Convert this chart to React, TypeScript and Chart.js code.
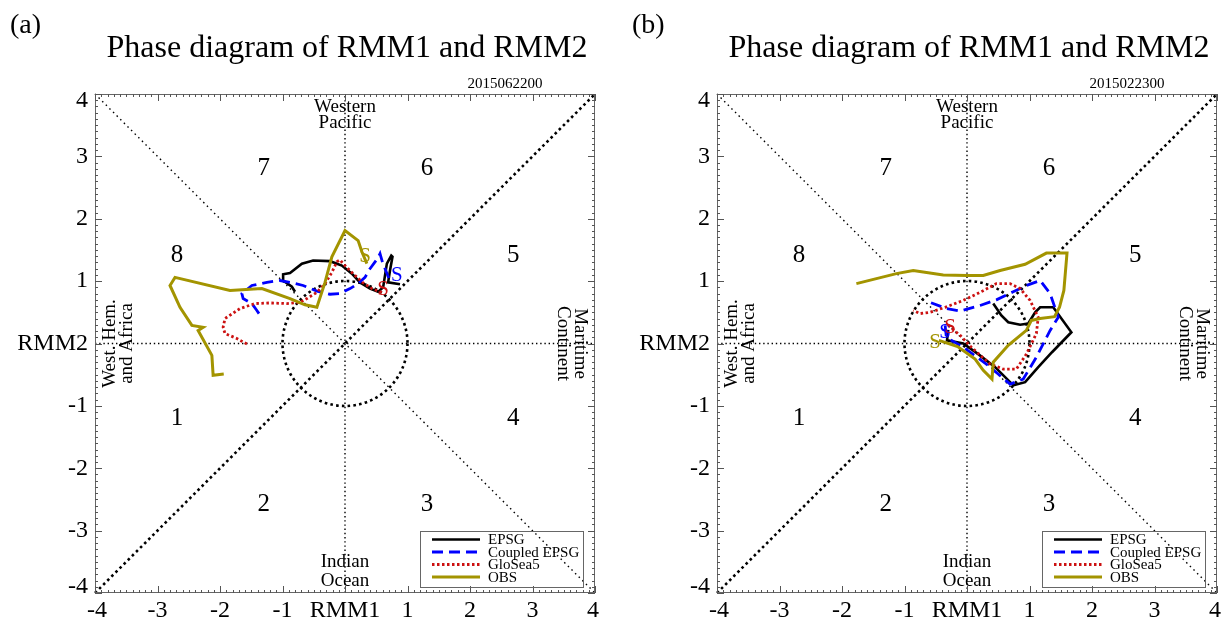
import React, { useEffect, useRef } from "react";
import { Chart, registerables } from "chart.js";

Chart.register(...registerables);

type Pt = [number, number];

// ---------- shared labels ----------
const chartTitle = "Phase diagram of RMM1 and RMM2";
const panelTags = ["(a)", "(b)"];
const panelDates = ["2015062200", "2015022300"];
const seriesNames = ["EPSG", "Coupled EPSG", "GloSea5", "OBS"];
const seriesColors = ["#000000", "#0000ff", "#cc1111", "#a39400"];
const axisTickValues = [-4, -3, -2, -1, 0, 1, 2, 3, 4];
const xTickLabels = ["-4", "-3", "-2", "-1", "RMM1", "1", "2", "3", "4"];
const yTickLabels = ["-4", "-3", "-2", "-1", "RMM2", "1", "2", "3", "4"];
const phaseLabels = ["1", "2", "3", "4", "5", "6", "7", "8"];

// ---------- panel (a) 2015062200 ----------
const epsgA: Pt[] = [
  [0.88, 0.95], [0.69, 0.98], [0.72, 1.17], [0.76, 1.39], [0.74, 1.41], [0.67, 1.28],
  [0.61, 0.90], [0.53, 0.83], [0.40, 0.88], [0.24, 0.98], [0.11, 1.12], [-0.05, 1.25],
  [-0.24, 1.32], [-0.51, 1.33], [-0.69, 1.28], [-0.88, 1.13], [-0.99, 1.11], [-0.99, 1.01],
  [-0.85, 0.91], [-0.80, 0.83],
];
const coupledA: Pt[] = [
  [0.70, 1.05], [0.60, 1.30], [0.56, 1.44], [0.52, 1.36], [0.40, 1.20], [0.32, 1.06],
  [0.21, 0.96], [0.08, 0.88], [-0.08, 0.80], [-0.24, 0.79], [-0.45, 0.84], [-0.67, 0.93],
  [-0.88, 0.98], [-1.04, 1.01], [-1.25, 0.98], [-1.49, 0.93], [-1.65, 0.80], [-1.63, 0.72],
  [-1.49, 0.64], [-1.41, 0.53], [-1.33, 0.41],
];
const glosea5A: Pt[] = [
  [0.59, 0.82], [0.43, 0.88], [0.28, 0.98], [0.13, 1.12], [0.00, 1.25], [-0.08, 1.34],
  [-0.13, 1.31], [-0.21, 1.14], [-0.32, 0.96], [-0.45, 0.82], [-0.61, 0.72], [-0.72, 0.66],
  [-0.93, 0.64], [-1.20, 0.65], [-1.44, 0.64], [-1.68, 0.56], [-1.92, 0.40], [-1.95, 0.26],
  [-1.92, 0.16], [-1.73, 0.08], [-1.55, -0.02],
];
const obsA: Pt[] = [
  [0.35, 1.28], [0.27, 1.47], [0.21, 1.65], [0.00, 1.81], [-0.21, 1.39], [-0.32, 0.98],
  [-0.45, 0.58], [-0.64, 0.62], [-0.88, 0.72], [-1.33, 0.88], [-1.84, 0.85], [-2.72, 1.06],
  [-2.80, 0.93], [-2.64, 0.58], [-2.45, 0.29], [-2.27, 0.26], [-2.35, 0.21], [-2.13, -0.19],
  [-2.11, -0.51], [-1.94, -0.49],
];
// start ("S") markers per series (null = not visible)
const startA: (Pt | null)[] = [null, [0.83, 1.09], [0.61, 0.87], [0.32, 1.40]];

// ---------- panel (b) 2015022300 ----------
const epsgB: Pt[] = [
  [-0.30, 0.22], [-0.32, 0.05], [-0.06, 0.00], [0.18, -0.17], [0.45, -0.38], [0.69, -0.62],
  [0.74, -0.67], [0.93, -0.62], [1.14, -0.38], [1.36, -0.14], [1.67, 0.18], [1.38, 0.58],
  [1.17, 0.58], [1.09, 0.50], [0.98, 0.32], [0.85, 0.30], [0.66, 0.34], [0.55, 0.45],
  [0.42, 0.64],
];
const coupledB: Pt[] = [
  [-0.35, 0.29], [-0.33, 0.10], [-0.06, -0.06], [0.31, -0.33], [0.69, -0.65], [0.90, -0.57],
  [1.11, -0.22], [1.33, 0.21], [1.46, 0.42], [1.33, 0.80], [1.17, 1.01], [0.95, 0.93],
  [0.74, 0.83], [0.47, 0.70], [0.21, 0.61], [-0.11, 0.52], [-0.33, 0.56], [-0.59, 0.66],
];
const glosea5B: Pt[] = [
  [-0.30, 0.29], [-0.11, 0.13], [0.07, -0.06], [0.37, -0.33], [0.58, -0.41], [0.79, -0.41],
  [0.95, -0.17], [1.11, 0.16], [1.14, 0.42], [1.01, 0.69], [0.85, 0.88], [0.69, 0.96],
  [0.47, 0.96], [0.21, 0.82], [-0.06, 0.69], [-0.35, 0.58], [-0.59, 0.50], [-0.75, 0.48],
  [-0.86, 0.53],
];
const obsB: Pt[] = [
  [-0.45, 0.05], [-0.15, -0.05], [0.13, -0.25], [0.26, -0.43], [0.40, -0.57], [0.42, -0.30],
  [0.66, -0.03], [0.95, 0.21], [1.03, 0.37], [1.17, 0.40], [1.40, 0.43], [1.48, 0.58],
  [1.55, 0.85], [1.60, 1.45], [1.27, 1.45], [0.93, 1.27], [0.53, 1.17], [0.26, 1.09],
  [0.00, 1.09], [-0.38, 1.10], [-0.86, 1.17], [-1.13, 1.12], [-1.77, 0.96],
];
const startB: (Pt | null)[] = [null, [-0.35, 0.18], [-0.27, 0.26], [-0.51, 0.02]];

// ---------- styling (not data) ----------
const SERIF = '"Liberation Serif", "Times New Roman", serif';
const seriesWidths = [2.6, 2.8, 2.8, 3];
const seriesDashes: number[][] = [[], [11, 6], [2.5, 2.5], []];
const phasePos: Pt[] = [
  [-2.69, -1.2], [-1.3, -2.58], [1.31, -2.58], [2.69, -1.2],
  [2.69, 1.41], [1.31, 2.8], [-1.3, 2.8], [-2.69, 1.41],
];

const phasePlugin = {
  id: "phasePanel",
  beforeDatasetsDraw(chart: any) {
    const { ctx, scales } = chart;
    const X = (v: number) => scales.x.getPixelForValue(v);
    const Y = (v: number) => scales.y.getPixelForValue(v);
    ctx.save();
    ctx.strokeStyle = "#000";
    const seg = (x1: number, y1: number, x2: number, y2: number) => {
      ctx.beginPath();
      ctx.moveTo(X(x1), Y(y1));
      ctx.lineTo(X(x2), Y(y2));
      ctx.stroke();
    };
    // thin dotted axes and anti-diagonal
    ctx.lineWidth = 1.4;
    ctx.setLineDash([1.4, 2.8]);
    seg(0, -4, 0, 4);
    seg(-4, 0, 4, 0);
    ctx.setLineDash([1.5, 3.6]);
    seg(-4, 4, 4, -4);
    // thick dotted diagonal and unit circle
    ctx.lineWidth = 2.6;
    ctx.setLineDash([2.6, 3.2]);
    seg(-4, -4, 4, 4);
    ctx.beginPath();
    const r = X(1) - X(0);
    ctx.arc(X(0), Y(0), r, 0, Math.PI * 2);
    ctx.stroke();
    ctx.restore();
  },
  afterDatasetsDraw(chart: any, _a: any, opts: any) {
    const { ctx, chartArea: ca, scales } = chart;
    const X = (v: number) => scales.x.getPixelForValue(v);
    const Y = (v: number) => scales.y.getPixelForValue(v);
    ctx.save();
    ctx.setLineDash([]);

    // start markers
    ctx.font = `21px ${SERIF}`;
    ctx.textAlign = "center";
    ctx.textBaseline = "middle";
    (opts.starts as (Pt | null)[]).forEach((p, i) => {
      if (!p) return;
      ctx.fillStyle = seriesColors[i];
      ctx.fillText("S", X(p[0]), Y(p[1]));
    });

    // frame
    ctx.strokeStyle = "#666";
    ctx.lineWidth = 1;
    ctx.strokeRect(ca.left + 0.5, ca.top + 0.5, ca.right - ca.left - 1, ca.bottom - ca.top - 1);
    // ticks
    ctx.strokeStyle = "#555";
    ctx.beginPath();
    for (let i = -40; i <= 40; i++) {
      const v = i / 10;
      const len = i % 10 === 0 ? 7 : 3;
      const px = Math.round(X(v)) + 0.5;
      const py = Math.round(Y(v)) + 0.5;
      ctx.moveTo(px, ca.bottom); ctx.lineTo(px, ca.bottom - len);
      ctx.moveTo(px, ca.top); ctx.lineTo(px, ca.top + len);
      ctx.moveTo(ca.left, py); ctx.lineTo(ca.left + len, py);
      ctx.moveTo(ca.right, py); ctx.lineTo(ca.right - len, py);
    }
    ctx.stroke();

    ctx.fillStyle = "#000";
    // tick labels
    ctx.font = `24px ${SERIF}`;
    ctx.textBaseline = "middle";
    ctx.textAlign = "right";
    axisTickValues.forEach((v, i) => {
      let py = Y(v);
      if (v === 4) py += 7;
      if (v === -4) py -= 6;
      ctx.fillText(yTickLabels[i], ca.left - 7, py);
    });
    ctx.textAlign = "center";
    axisTickValues.forEach((v, i) => {
      let px = X(v);
      if (v === 4) px -= 2;
      if (v === -4) px += 2;
      ctx.fillText(xTickLabels[i], px, ca.bottom + 18);
    });

    // phase numbers
    ctx.font = `25px ${SERIF}`;
    phasePos.forEach((p, i) => ctx.fillText(phaseLabels[i], X(p[0]), Y(p[1])));

    // region names
    ctx.font = `19px ${SERIF}`;
    const cx = (ca.left + ca.right) / 2;
    ctx.fillText("Western", cx, ca.top + 13);
    ctx.fillText("Pacific", cx, ca.top + 29);
    ctx.fillText("Indian", cx, ca.bottom - 31);
    ctx.fillText("Ocean", cx, ca.bottom - 12);
    const cy = (ca.top + ca.bottom) / 2;
    const rot = (t: string, x: number, a: number) => {
      ctx.save();
      ctx.translate(x, cy);
      ctx.rotate(a);
      ctx.fillText(t, 0, 0);
      ctx.restore();
    };
    rot("West. Hem.", ca.left + 15, -Math.PI / 2);
    rot("and Africa", ca.left + 32, -Math.PI / 2);
    rot("Maritime", ca.right - 15, Math.PI / 2);
    rot("Continent", ca.right - 32, Math.PI / 2);

    // title, tag, date
    ctx.font = `32px ${SERIF}`;
    ctx.fillText(chartTitle, cx + 2, 49);
    ctx.textAlign = "left";
    ctx.font = `28px ${SERIF}`;
    ctx.fillText(opts.tag, ca.left - 85, 26);
    ctx.textAlign = "center";
    ctx.font = `15px ${SERIF}`;
    ctx.fillText(opts.date, ca.left + 410, 84);

    // legend
    const lx = ca.left + 325;
    const ly = ca.top + 437;
    ctx.strokeStyle = "#666";
    ctx.lineWidth = 1;
    ctx.strokeRect(lx + 0.5, ly + 0.5, 163, 56);
    ctx.font = `15px ${SERIF}`;
    ctx.textAlign = "left";
    const rows = [8.5, 21, 33.5, 46];
    seriesNames.forEach((name, i) => {
      const yy = ly + rows[i];
      ctx.strokeStyle = seriesColors[i];
      ctx.lineWidth = seriesWidths[i];
      ctx.setLineDash(seriesDashes[i]);
      ctx.beginPath();
      ctx.moveTo(lx + 12, yy);
      ctx.lineTo(lx + 60, yy);
      ctx.stroke();
      ctx.setLineDash([]);
      ctx.fillStyle = "#000";
      ctx.fillText(name, lx + 68, yy + 1);
    });
    ctx.restore();
  },
};

function buildConfig(series: Pt[][], starts: (Pt | null)[], tag: string, date: string, pad: any) {
  return {
    type: "scatter" as const,
    data: {
      datasets: series.map((pts, i) => ({
        label: seriesNames[i],
        data: pts.map(([x, y]) => ({ x, y })),
        showLine: true,
        borderColor: seriesColors[i],
        backgroundColor: seriesColors[i],
        borderWidth: seriesWidths[i],
        borderDash: seriesDashes[i],
        borderJoinStyle: "miter" as const,
        pointRadius: 0,
        tension: 0,
        order: series.length - 1 - i,
      })),
    },
    options: {
      responsive: false,
      animation: false as const,
      devicePixelRatio: 1,
      events: [],
      layout: { padding: pad },
      scales: {
        x: { type: "linear" as const, min: -4, max: 4, display: false },
        y: { type: "linear" as const, min: -4, max: 4, display: false },
      },
      plugins: {
        legend: { display: false },
        tooltip: { enabled: false },
        phasePanel: { starts, tag, date },
      },
    },
    plugins: [phasePlugin],
  };
}

function Panel(props: { series: Pt[][]; starts: (Pt | null)[]; tag: string; date: string; left: number; pad: any }) {
  const ref = useRef<HTMLCanvasElement | null>(null);
  useEffect(() => {
    if (!ref.current) return;
    const chart = new Chart(ref.current, buildConfig(props.series, props.starts, props.tag, props.date, props.pad) as any);
    return () => chart.destroy();
  }, []);
  return (
    <canvas
      ref={ref}
      width={613}
      height={630}
      style={{ position: "absolute", left: props.left, top: 0, width: 613, height: 630 }}
    />
  );
}

export default function App() {
  return (
    <div style={{ position: "absolute", left: 0, top: 0, width: 1226, height: 630, background: "#fff" }}>
      <Panel
        series={[epsgA, coupledA, glosea5A, obsA]}
        starts={startA}
        tag={panelTags[0]}
        date={panelDates[0]}
        left={0}
        pad={{ left: 95, right: 18, top: 94, bottom: 37 }}
      />
      <Panel
        series={[epsgB, coupledB, glosea5B, obsB]}
        starts={startB}
        tag={panelTags[1]}
        date={panelDates[1]}
        left={613}
        pad={{ left: 104, right: 9, top: 94, bottom: 37 }}
      />
    </div>
  );
}
